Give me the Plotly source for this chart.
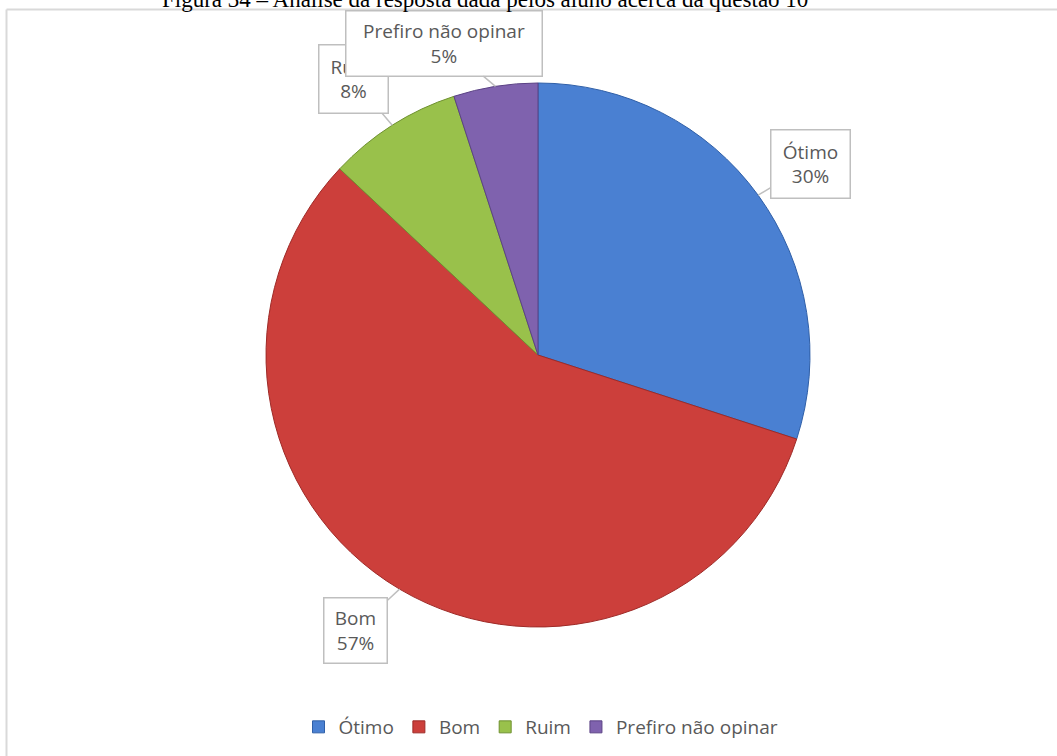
import math
import plotly.graph_objects as go

# ---- data ----
categories = ["Ótimo", "Bom", "Ruim", "Prefiro não opinar"]
values = [30, 57, 8, 5]
colors = ["#4a80d2", "#cc3f3b", "#99c14b", "#7f62ae"]
edge_colors = ["#2f5fa8", "#9e2a27", "#6f9130", "#5b4285"]
title_text = "Figura 34 – Análise da resposta dada pelos aluno acerca da questão 10"

# ---- layout constants (pixels) ----
W, H = 1057, 756
CX, CY, R = 538, 355, 272
# callout box offsets (pixels, from arrow tip to box centre) and box sizes
offsets = [(52, -31), (-44, 41), (-39, -46), (-51, -43)]
box_w = [78, 62, 68, 195]
box_h = [67, 64, 67, 64]
PAD = 2

fig = go.Figure()
fig.add_trace(go.Pie(
    labels=categories,
    values=values,
    sort=False,
    direction="clockwise",
    rotation=0,
    marker=dict(colors=colors, line=dict(color=edge_colors, width=1)),
    textinfo="none",
    hoverinfo="label+percent",
    domain=dict(x=[(CX - R) / W, (CX + R) / W], y=[1 - (CY + R) / H, 1 - (CY - R) / H]),
))

total = sum(values)
annotations = []
cum = 0.0
for i, (cat, v) in enumerate(zip(categories, values)):
    mid = (cum + v / 2) / total * 2 * math.pi
    cum += v
    px = CX + R * math.sin(mid)
    py = CY - R * math.cos(mid)
    pct = round(v / total * 100)
    annotations.append(dict(
        x=px / W, y=1 - py / H, xref="paper", yref="paper",
        text=f"{cat}<br>{pct}%",
        showarrow=True, arrowhead=0, arrowwidth=1.5, arrowcolor="#bfbfbf",
        ax=offsets[i][0], ay=offsets[i][1],
        bgcolor="white", bordercolor="#bfbfbf", borderwidth=1.5, borderpad=PAD,
        width=box_w[i] - 2 * PAD, height=box_h[i] - 2 * PAD,
        font=dict(family="Open Sans, Noto Sans, sans-serif", size=19, color="#595959"),
    ))

# title, partly cut off at top as in the reference
annotations.append(dict(
    x=485 / W, y=1, xref="paper", yref="paper", xanchor="center", yanchor="middle",
    yshift=1, text=title_text, showarrow=False,
    font=dict(family="Liberation Serif, Times New Roman, serif", size=23, color="#000000"),
))

fig.update_layout(
    width=W, height=H,
    margin=dict(l=0, r=0, t=0, b=0),
    paper_bgcolor="white", plot_bgcolor="white",
    showlegend=True,
    legend=dict(
        orientation="h", x=541 / W, xanchor="center", y=1 - 727 / H, yanchor="middle",
        font=dict(family="Open Sans, Noto Sans, sans-serif", size=19, color="#595959"),
        itemwidth=30, traceorder="normal",
    ),
    annotations=annotations,
    shapes=[
        dict(type="line", xref="paper", yref="paper",
             x0=6.5 / W, x1=6.5 / W, y0=0, y1=1 - 9.5 / H,
             line=dict(color="#d9d9d9", width=2), layer="below"),
        dict(type="line", xref="paper", yref="paper",
             x0=6.5 / W, x1=1, y0=1 - 9.5 / H, y1=1 - 9.5 / H,
             line=dict(color="#d9d9d9", width=2), layer="below"),
    ],
)

fig.write_html(
    "out.html",
    config={"displayModeBar": False},
    post_script=(
        "document.body.style.margin='0';document.body.style.padding='0';"
        "document.body.style.overflow='hidden';"
        "document.documentElement.style.overflow='hidden';"
    ),
)
